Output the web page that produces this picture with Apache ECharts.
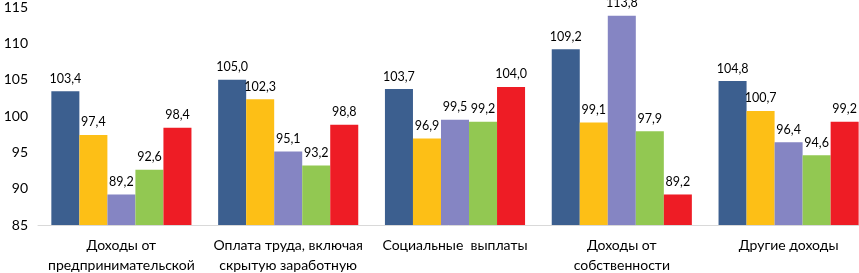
<!DOCTYPE html>
<html>
<head>
<meta charset="utf-8">
<script src="https://cdn.jsdelivr.net/npm/echarts@6/dist/echarts.min.js"></script>
<style>
    html, body { margin: 0; padding: 0; background: #fff; }
    #main { width: 859px; height: 273px; }
</style>
</head>
<body>
<div id="main"></div>
<script>
var categories = [
    'Доходы от\nпредпринимательской\nдеятельности',
    'Оплата труда, включая\nскрытую заработную\nплату',
    'Социальные  выплаты',
    'Доходы от\nсобственности',
    'Другие доходы'
];
var seriesA = [103.4, 105.0, 103.7, 109.2, 104.8];
var seriesB = [97.4, 102.3, 96.9, 99.1, 100.7];
var seriesC = [89.2, 95.1, 99.5, 113.8, 96.4];
var seriesD = [92.6, 93.2, 99.2, 97.9, 94.6];
var seriesE = [98.4, 98.8, 104.0, 89.2, 99.2];
var colors = ['#3c5f8f', '#fdbf16', '#8585c3', '#92c852', '#ee1c25'];

var chartDom = document.getElementById('main');
var myChart = echarts.init(chartDom);
var option;

var font = 'Lato, "Open Sans", sans-serif';

function makeSeries(data, color) {
    return {
        type: 'bar',
        data: data,
        barGap: '0%',
        barCategoryGap: '16%',
        itemStyle: { color: color },
        label: {
            show: true,
            position: 'top',
            distance: 6,
            color: '#000',
            fontFamily: font,
            fontSize: 12.5,
            formatter: function (p) {
                return p.value.toFixed(1).replace('.', ',');
            }
        }
    };
}

option = {
    animation: false,
    grid: {
        left: 38,
        top: 7,
        width: 834,
        height: 218,
        outerBoundsMode: 'none'
    },
    xAxis: {
        type: 'category',
        data: categories,
        axisLine: { lineStyle: { color: '#d9d9d9' } },
        axisTick: { show: false },
        axisLabel: {
            color: '#000',
            fontFamily: font,
            fontSize: 14,
            lineHeight: 20,
            margin: 10,
            interval: 0
        }
    },
    yAxis: {
        type: 'value',
        min: 85,
        max: 115,
        interval: 5,
        axisLine: { show: false },
        axisTick: { show: false },
        splitLine: { show: false },
        axisLabel: {
            color: '#000',
            fontFamily: font,
            fontSize: 14,
            margin: 10
        }
    },
    series: [
        makeSeries(seriesA, colors[0]),
        makeSeries(seriesB, colors[1]),
        makeSeries(seriesC, colors[2]),
        makeSeries(seriesD, colors[3]),
        makeSeries(seriesE, colors[4])
    ]
};

option && myChart.setOption(option);

window.addEventListener('resize', myChart.resize);
</script>
</body>
</html>
